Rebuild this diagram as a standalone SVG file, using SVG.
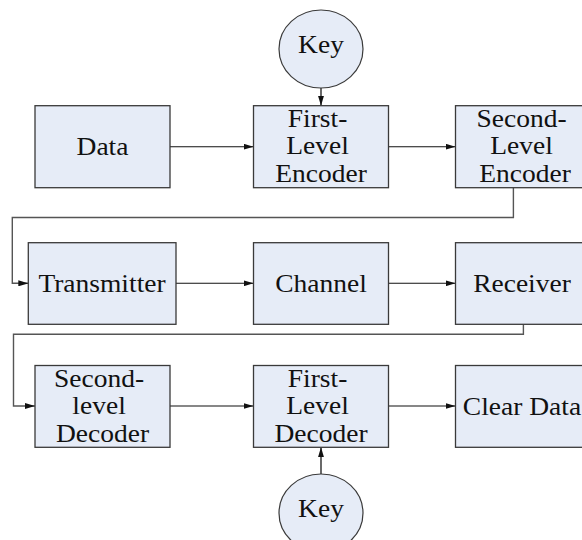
<svg xmlns="http://www.w3.org/2000/svg" width="582" height="540" viewBox="0 0 582 540">
  <style>
    .box { fill: #e6ecf7; stroke: #3a3a3a; stroke-width: 1.3; }
    .key { fill: #e6ecf7; stroke: #3a3a3a; stroke-width: 1.2; }
    .lbl { font-family: "Liberation Serif", "Times New Roman", serif; font-size: 25px; fill: #111; text-anchor: middle; }
    .wire { fill: none; stroke: #111; stroke-width: 1.1; }
    .loop { fill: none; stroke: #555; stroke-width: 1.4; }
    .keyline { fill: none; stroke: #444; stroke-width: 1.6; }
  </style>
  <defs>
    <marker id="arrow" viewBox="0 0 10 6" refX="10" refY="3" markerWidth="10" markerHeight="6" markerUnits="userSpaceOnUse" orient="auto">
      <path d="M0,0 L10,3 L0,6 Z" fill="#111"/>
    </marker>
  </defs>

  <!-- connectors -->
  <g id="connectors">
    <line class="wire" x1="170" y1="146.7" x2="253.5" y2="146.7" marker-end="url(#arrow)"/>
    <line class="wire" x1="388.5" y1="146.7" x2="455.5" y2="146.7" marker-end="url(#arrow)"/>
    <path class="loop" d="M513.4,187.7 V217.5 H12.3 V283.3 H28.3" marker-end="url(#arrow)"/>
    <line class="wire" x1="176" y1="283.3" x2="253.5" y2="283.3" marker-end="url(#arrow)"/>
    <line class="wire" x1="388.5" y1="283.3" x2="455.5" y2="283.3" marker-end="url(#arrow)"/>
    <path class="loop" d="M523.4,324.3 V334.3 H13.5 V406 H35" marker-end="url(#arrow)"/>
    <line class="wire" x1="170" y1="406" x2="253.5" y2="406" marker-end="url(#arrow)"/>
    <line class="wire" x1="388.5" y1="406" x2="455.5" y2="406" marker-end="url(#arrow)"/>
    <line class="keyline" x1="321" y1="88" x2="321" y2="105.7" marker-end="url(#arrow)"/>
    <line class="keyline" x1="321" y1="474" x2="321" y2="447.3" marker-end="url(#arrow)"/>
  </g>

  <!-- encoding side -->
  <g id="key-top">
    <ellipse class="key" cx="321" cy="49" rx="42" ry="39"/>
    <text class="lbl" transform="translate(321 0) scale(1.1 1)" x="0" y="53">Key</text>
  </g>
  <g id="data">
    <rect class="box" x="35" y="105.7" width="135" height="82"/>
    <text class="lbl" transform="translate(102.5 0) scale(1.1 1)" x="0" y="155">Data</text>
  </g>
  <g id="first-level-encoder">
    <rect class="box" x="253.5" y="105.7" width="135" height="82"/>
    <text class="lbl" transform="translate(321 0) scale(1.1 1)" x="0">
      <tspan x="0" y="127">First-</tspan>
      <tspan x="0" y="154.5">Level</tspan>
      <tspan x="0" y="182">Encoder</tspan>
    </text>
  </g>
  <g id="second-level-encoder">
    <rect class="box" x="455.5" y="105.7" width="135" height="82"/>
    <text class="lbl" transform="translate(525 0) scale(1.1 1)" x="0">
      <tspan x="0" y="127">Second-</tspan>
      <tspan x="0" y="154.5">Level</tspan>
      <tspan x="0" y="182">Encoder</tspan>
    </text>
  </g>

  <!-- transmission -->
  <g id="transmitter">
    <rect class="box" x="28.3" y="242.7" width="147.7" height="81.6"/>
    <text class="lbl" transform="translate(102 0) scale(1.1 1)" x="0" y="292">Transmitter</text>
  </g>
  <g id="channel">
    <rect class="box" x="253.5" y="242.7" width="135" height="81.6"/>
    <text class="lbl" transform="translate(321 0) scale(1.1 1)" x="0" y="292">Channel</text>
  </g>
  <g id="receiver">
    <rect class="box" x="455.5" y="242.7" width="135" height="81.6"/>
    <text class="lbl" transform="translate(522 0) scale(1.1 1)" x="0" y="292">Receiver</text>
  </g>

  <!-- decoding side -->
  <g id="second-level-decoder">
    <rect class="box" x="35" y="365.5" width="135" height="81.8"/>
    <text class="lbl" transform="translate(102.5 0) scale(1.1 1)" x="0">
      <tspan x="0" y="387">Second-</tspan>
      <tspan x="0" y="414.5">level</tspan>
      <tspan x="0" y="442">Decoder</tspan>
    </text>
  </g>
  <g id="first-level-decoder">
    <rect class="box" x="253.5" y="365.5" width="135" height="81.8"/>
    <text class="lbl" transform="translate(321 0) scale(1.1 1)" x="0">
      <tspan x="0" y="387">First-</tspan>
      <tspan x="0" y="414.5">Level</tspan>
      <tspan x="0" y="442">Decoder</tspan>
    </text>
  </g>
  <g id="clear-data">
    <rect class="box" x="455.5" y="365.5" width="135" height="81.8"/>
    <text class="lbl" transform="translate(522 0) scale(1.1 1)" x="0" y="415">Clear Data</text>
  </g>
  <g id="key-bottom">
    <ellipse class="key" cx="321" cy="513" rx="42" ry="39"/>
    <text class="lbl" transform="translate(321 0) scale(1.1 1)" x="0" y="517">Key</text>
  </g>
</svg>
